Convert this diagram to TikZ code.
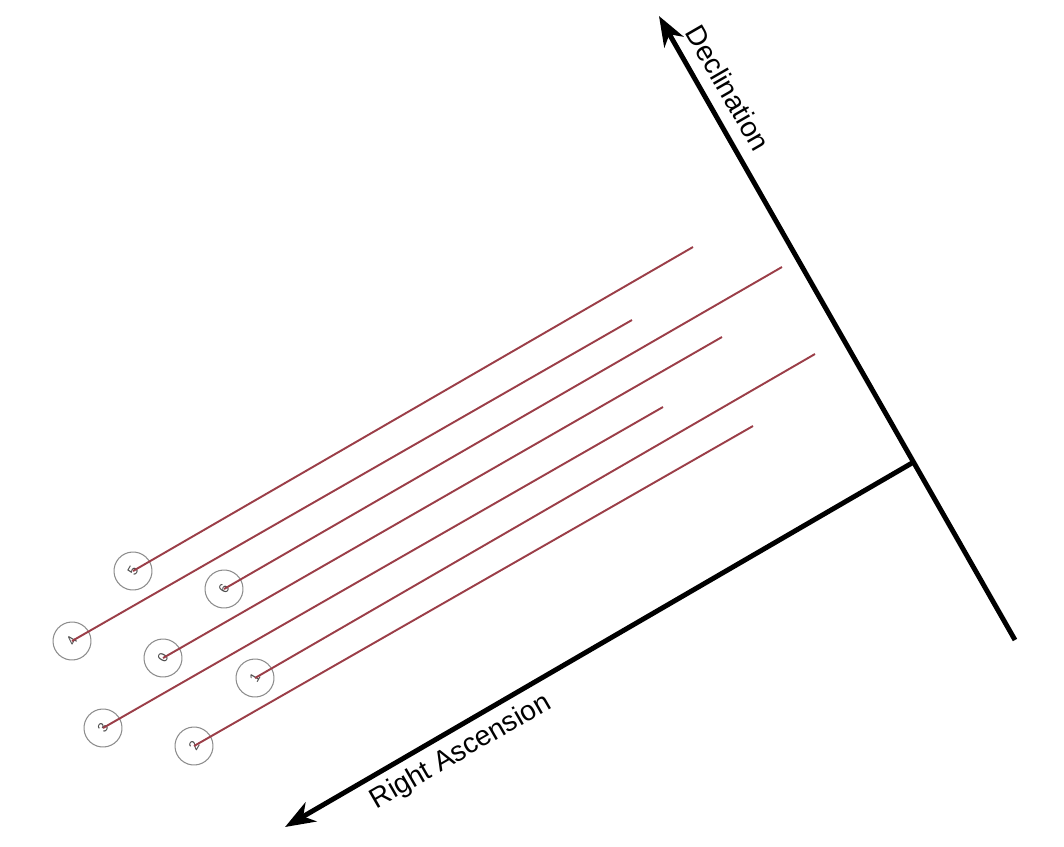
\documentclass[tikz,border=0pt]{standalone}
\usepackage{fontspec}
\setmainfont{Liberation Sans}
\usetikzlibrary{arrows.meta,positioning}
\definecolor{trailred}{RGB}{155,62,72}
\definecolor{ringgray}{RGB}{140,140,140}

\begin{document}
\begin{tikzpicture}[
  x=0.02cm,y=-0.02cm,
  star/.style={draw=ringgray,circle,line width=.6pt,minimum size=0.76cm,inner sep=0pt,
    text=black!70,font=\fontsize{8}{9}\selectfont,rotate=60},
  trail/.style={trailred,line width=1.1pt},
  axis/.style={line width=2.8pt,-{Stealth[length=6mm,width=4.4mm,inset=1.8mm]}},
  axislabel/.style={font=\fontsize{16}{19}\selectfont,inner sep=0pt}
]
  \useasboundingbox (0,0) rectangle (1064,846);

  % axes
  \coordinate (decbase) at (1015,640);
  \coordinate (dectip) at (659,16);
  \coordinate (raorigin) at (912,463);
  \coordinate (ratip) at (285,827);
  \draw[axis] (decbase) -- (dectip);
  \draw[axis] (raorigin) -- (ratip);
  \node[axislabel,rotate=-60] (declab) at (728,88) {Declination};
  \node[axislabel,rotate=30] (ralab) at (461,752) {Right Ascension};

  % stars
  \node[star] (s5) at (133,571) {5};
  \node[star] (s4) at (72,641) {4};
  \node[star] (s6) at (224,589) {6};
  \node[star] (s0) at (163,658) {0};
  \node[star] (s3) at (103,728) {3};
  \node[star] (s1) at (255,678) {1};
  \node[star] (s2) at (194,746) {2};

  % trail ends
  \coordinate (e5) at (693,247);
  \coordinate (e4) at (632,320);
  \coordinate (e6) at (782,267);
  \coordinate (e0) at (722,337);
  \coordinate (e3) at (663,407);
  \coordinate (e1) at (815,354);
  \coordinate (e2) at (753,426);

  \draw[trail] (s5.center) -- (e5);
  \draw[trail] (s4.center) -- (e4);
  \draw[trail] (s6.center) -- (e6);
  \draw[trail] (s0.center) -- (e0);
  \draw[trail] (s3.center) -- (e3);
  \draw[trail] (s1.center) -- (e1);
  \draw[trail] (s2.center) -- (e2);
\end{tikzpicture}
\end{document}
